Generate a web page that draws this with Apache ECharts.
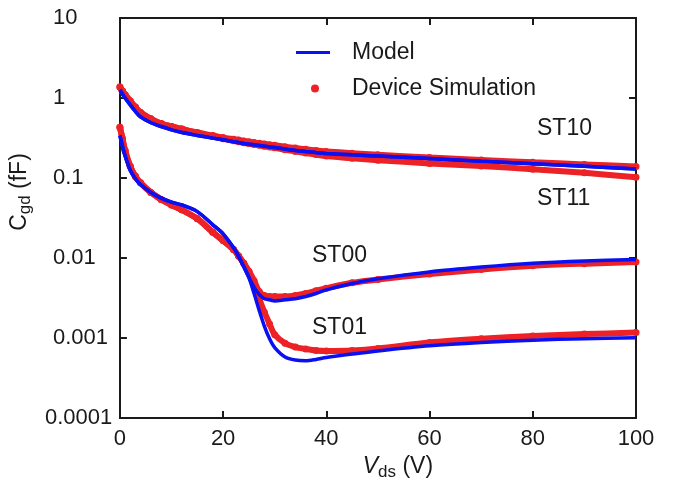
<!DOCTYPE html>
<html>
<head>
<meta charset="utf-8">
<script src="https://cdn.jsdelivr.net/npm/echarts@6/dist/echarts.min.js"></script>
<style>
  html, body { margin: 0; padding: 0; background: #fff; }
  #chart { width: 677px; height: 490px; }
</style>
</head>
<body>
<div id="chart"></div>
<script>
// Vds sample points (V)
var vGrid = [0, 0.5, 1, 2, 3, 4, 6, 8, 10, 12, 15, 18, 20, 22, 23, 24, 25, 26, 27, 28, 29, 30, 32, 34, 36, 38, 40, 45, 50, 60, 70, 80, 90, 100];

// Cgd (fF), model curves (blue)
var modelST10 = [1.26, 1.12, 1.0, 0.82, 0.68, 0.58, 0.49, 0.44, 0.40, 0.37, 0.34, 0.315, 0.30, 0.285, 0.278, 0.27, 0.265, 0.26, 0.255, 0.25, 0.245, 0.24, 0.23, 0.221, 0.214, 0.208, 0.203, 0.195, 0.188, 0.175, 0.162, 0.151, 0.14, 0.13];
var modelST11 = [1.26, 1.12, 1.0, 0.82, 0.68, 0.58, 0.49, 0.44, 0.40, 0.37, 0.34, 0.315, 0.30, 0.285, 0.278, 0.27, 0.265, 0.26, 0.255, 0.25, 0.245, 0.24, 0.23, 0.221, 0.214, 0.208, 0.203, 0.195, 0.188, 0.175, 0.162, 0.151, 0.14, 0.13];
var modelST00 = [0.34, 0.25, 0.19, 0.125, 0.098, 0.083, 0.066, 0.056, 0.050, 0.046, 0.038, 0.026, 0.020, 0.0135, 0.0105, 0.0078, 0.0057, 0.0043, 0.0035, 0.0031, 0.0030, 0.0029, 0.0030, 0.0031, 0.0033, 0.0036, 0.0040, 0.0048, 0.0055, 0.0067, 0.0077, 0.0086, 0.0092, 0.0096];
var modelST01 = [0.34, 0.25, 0.19, 0.125, 0.098, 0.083, 0.066, 0.056, 0.050, 0.046, 0.038, 0.026, 0.020, 0.0135, 0.0105, 0.0078, 0.0057, 0.0036, 0.0022, 0.0014, 0.00098, 0.00076, 0.00058, 0.00053, 0.00052, 0.00054, 0.00057, 0.00063, 0.00069, 0.0008, 0.00088, 0.00094, 0.00098, 0.00101];

// Cgd (fF), device simulation (red dots)
var simST10 = [1.37, 1.22, 1.1, 0.92, 0.77, 0.66, 0.55, 0.48, 0.44, 0.41, 0.37, 0.34, 0.32, 0.305, 0.298, 0.29, 0.284, 0.278, 0.272, 0.266, 0.261, 0.256, 0.246, 0.237, 0.229, 0.221, 0.215, 0.204, 0.195, 0.18, 0.168, 0.157, 0.148, 0.139];
var simST11 = [1.37, 1.22, 1.1, 0.92, 0.77, 0.66, 0.55, 0.48, 0.44, 0.41, 0.365, 0.33, 0.31, 0.292, 0.284, 0.276, 0.269, 0.262, 0.256, 0.25, 0.244, 0.238, 0.226, 0.215, 0.205, 0.196, 0.188, 0.176, 0.167, 0.152, 0.141, 0.129, 0.116, 0.102];
var simST00 = [0.43, 0.31, 0.22, 0.14, 0.105, 0.087, 0.066, 0.054, 0.046, 0.040, 0.031, 0.021, 0.0165, 0.0128, 0.0106, 0.0086, 0.0068, 0.0052, 0.0038, 0.0034, 0.0033, 0.0033, 0.0033, 0.0034, 0.0036, 0.0039, 0.0042, 0.0049, 0.0054, 0.0063, 0.0072, 0.0080, 0.0085, 0.0089];
var simST01 = [0.43, 0.31, 0.22, 0.14, 0.105, 0.087, 0.066, 0.054, 0.046, 0.040, 0.031, 0.021, 0.0165, 0.0128, 0.0106, 0.0086, 0.0068, 0.0049, 0.0031, 0.0021, 0.0015, 0.0011, 0.00086, 0.00077, 0.00073, 0.0007, 0.00069, 0.0007, 0.00074, 0.00088, 0.00098, 0.00106, 0.00112, 0.00117];

var xTicks = [0, 20, 40, 60, 80, 100];
var yTickLabels = ['0.0001', '0.001', '0.01', '0.1', '1', '10'];
var curveNames = ['ST10', 'ST11', 'ST00', 'ST01'];

var FONT = '"Liberation Sans", Arial, sans-serif';
var BLUE = '#0a10f2';
var RED = '#ec2227';
var INK = '#1a1a1a';

function pairs(ys) {
    var out = [];
    for (var i = 0; i < vGrid.length; i++) {
        out.push([vGrid[i], ys[i]]);
    }
    return out;
}

function simSeries(ys) {
    return {
        name: 'Device Simulation',
        type: 'line',
        smooth: 0.3,
        data: pairs(ys),
        symbol: 'circle',
        symbolSize: 7,
        showSymbol: true,
        itemStyle: { color: RED },
        lineStyle: { color: RED, width: 6 },
        z: 2
    };
}

function modelSeries(ys) {
    return {
        name: 'Model',
        type: 'line',
        smooth: 0.3,
        data: pairs(ys),
        showSymbol: false,
        itemStyle: { color: BLUE },
        lineStyle: { color: BLUE, width: 3.5 },
        z: 3
    };
}

var dom = document.getElementById('chart');
var myChart = echarts.init(dom, null, { renderer: 'canvas' });

var axisLineStyle = { color: INK, width: 2 };

var option = {
    animation: false,
    backgroundColor: '#fff',
    textStyle: { fontFamily: FONT },
    grid: { left: 119, right: 41, top: 18, bottom: 72 },
    legend: [
        {
            data: [{ name: 'Model', icon: 'rect' }],
            left: 291, top: 36,
            itemWidth: 34, itemHeight: 3,
            selectedMode: false,
            textStyle: { fontFamily: FONT, fontSize: 23, color: INK, padding: [0, 0, 0, 17] }
        },
        {
            data: [{ name: 'Device Simulation', icon: 'circle' }],
            left: 306, top: 72,
            itemWidth: 8, itemHeight: 8,
            selectedMode: false,
            textStyle: { fontFamily: FONT, fontSize: 23, color: INK, padding: [0, 0, 0, 28] }
        }
    ],
    xAxis: [
        {
            type: 'value', min: 0, max: 100, interval: 20,
            name: '{v|V}{s|ds}{p| (V)}',
            nameLocation: 'middle', nameGap: 33,
            nameTextStyle: {
                padding: [0, 0, 0, 40],
                rich: {
                    v: { fontFamily: FONT, fontSize: 23, fontStyle: 'italic', color: INK },
                    s: { fontFamily: FONT, fontSize: 17, color: INK, padding: [12, 0, 0, 0] },
                    p: { fontFamily: FONT, fontSize: 23, color: INK }
                }
            },
            axisLine: { show: true, onZero: false, lineStyle: axisLineStyle },
            axisTick: { inside: true, length: 7, lineStyle: axisLineStyle },
            axisLabel: {
                margin: 10, fontFamily: FONT, fontSize: 22, color: INK,
                formatter: function (v) { return xTicks.indexOf(v) >= 0 ? String(v) : ''; }
            },
            splitLine: { show: false }
        },
        {
            type: 'value', min: 0, max: 100, interval: 20, position: 'top',
            axisLine: { show: true, onZero: false, lineStyle: axisLineStyle },
            axisTick: { inside: true, length: 7, lineStyle: axisLineStyle },
            axisLabel: { show: false },
            splitLine: { show: false }
        }
    ],
    yAxis: [
        {
            type: 'log', logBase: 10, min: 0.0001, max: 10,
            name: '{c|C}{s|gd}{p| (fF)}',
            nameLocation: 'middle', nameGap: 82,
            nameTextStyle: {
                padding: [0, 0, 0, 52],
                rich: {
                    c: { fontFamily: FONT, fontSize: 23, color: INK },
                    s: { fontFamily: FONT, fontSize: 17, color: INK, padding: [12, 0, 0, 0] },
                    p: { fontFamily: FONT, fontSize: 23, color: INK }
                }
            },
            axisLine: { show: true, onZero: false, lineStyle: axisLineStyle },
            axisTick: { inside: true, length: 7, lineStyle: axisLineStyle },
            axisLabel: {
                margin: 4, align: 'right',
                formatter: function (v) {
                    var k = Math.round(Math.log(v) / Math.LN10) + 4;
                    var txt = yTickLabels[k] || '';
                    return k === 0 ? '{b|' + txt + '}' : '{a|' + txt + '}';
                },
                rich: {
                    a: { width: 63, align: 'left', fontFamily: FONT, fontSize: 22, color: INK },
                    b: { width: 71, align: 'left', fontFamily: FONT, fontSize: 22, color: INK }
                }
            },
            splitLine: { show: false }
        },
        {
            type: 'log', logBase: 10, min: 0.0001, max: 10, position: 'right',
            axisLine: { show: true, onZero: false, lineStyle: axisLineStyle },
            axisTick: { inside: true, length: 7, lineStyle: axisLineStyle },
            axisLabel: { show: false },
            splitLine: { show: false }
        }
    ],
    graphic: [
        { type: 'text', left: 537, top: 117, style: { text: curveNames[0], font: '23px ' + FONT, fill: INK } },
        { type: 'text', left: 537, top: 187, style: { text: curveNames[1], font: '23px ' + FONT, fill: INK } },
        { type: 'text', left: 312, top: 244, style: { text: curveNames[2], font: '23px ' + FONT, fill: INK } },
        { type: 'text', left: 312, top: 316, style: { text: curveNames[3], font: '23px ' + FONT, fill: INK } }
    ],
    series: [
        simSeries(simST10),
        simSeries(simST11),
        simSeries(simST00),
        simSeries(simST01),
        modelSeries(modelST10),
        modelSeries(modelST11),
        modelSeries(modelST00),
        modelSeries(modelST01)
    ]
};

if (option && typeof option === 'object') {
    myChart.setOption(option, true);
}
</script>
</body>
</html>
